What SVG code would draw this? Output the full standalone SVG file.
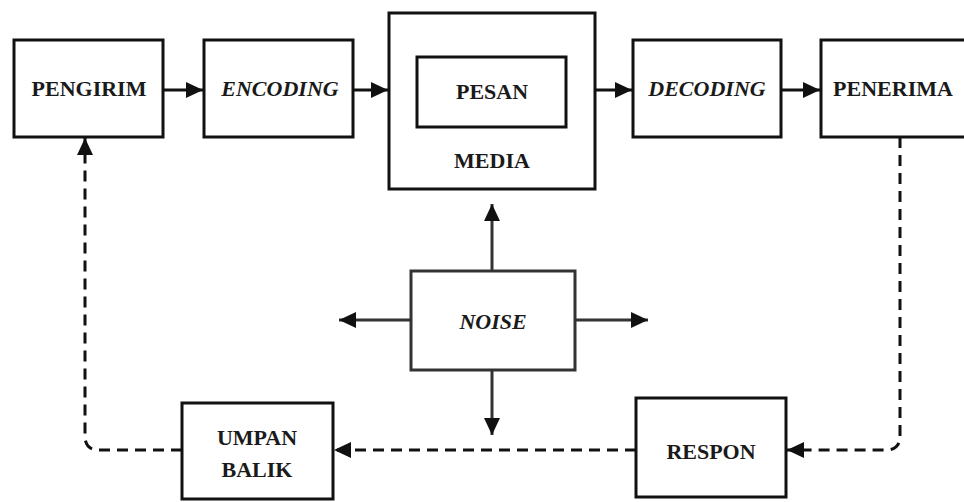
<svg xmlns="http://www.w3.org/2000/svg" width="964" height="502" viewBox="0 0 964 502">
<style>
.box{fill:#fff;stroke:#111;stroke-width:3}
.t{font-family:"Liberation Serif","DejaVu Serif",serif;font-weight:bold;font-size:22px;fill:#1a1a1a;text-anchor:middle}
.i{font-style:italic}
.c{fill:none;stroke:#111;stroke-width:3}
.n{fill:none;stroke:#333;stroke-width:3}
.d{fill:none;stroke:#111;stroke-width:3;stroke-dasharray:11 7}
</style>
<defs>
<marker id="ah" markerUnits="userSpaceOnUse" markerWidth="17" markerHeight="16" refX="17" refY="8" orient="auto">
<path d="M0,0 L17,8 L0,16 z" fill="#111"/>
</marker>
</defs>
<rect width="964" height="502" fill="#fff"/>
<g id="pengirim"><rect class="box" x="14" y="40" width="149" height="97"/><text class="t" x="89" y="96">PENGIRIM</text></g>
<g id="encoding"><rect class="box" x="204" y="40" width="149" height="97"/><text class="t i" x="280" y="96">ENCODING</text></g>
<g id="media"><rect class="box" x="389" y="13" width="206" height="176"/><text class="t" x="492" y="168">MEDIA</text></g>
<g id="pesan"><rect class="box" x="417" y="57" width="149" height="70"/><text class="t" x="492" y="99">PESAN</text></g>
<g id="decoding"><rect class="box" x="633" y="40" width="148" height="97"/><text class="t i" x="707" y="96">DECODING</text></g>
<g id="penerima"><rect class="box" x="821" y="40" width="150" height="97"/><text class="t" x="893" y="96">PENERIMA</text></g>
<g id="noise"><rect class="box" x="411" y="271" width="164" height="99" style="stroke:#333"/><text class="t i" x="493" y="329">NOISE</text></g>
<g id="umpan-balik"><rect class="box" x="182" y="403" width="151" height="96"/><text class="t" x="257" y="445">UMPAN</text><text class="t" x="257" y="477">BALIK</text></g>
<g id="respon"><rect class="box" x="636" y="398" width="150" height="99"/><text class="t" x="711" y="459">RESPON</text></g>
<g id="connectors">
<path class="c" d="M163,90 H203" marker-end="url(#ah)"/>
<path class="c" d="M353,90 H388" marker-end="url(#ah)"/>
<path class="c" d="M595,90 H632" marker-end="url(#ah)"/>
<path class="c" d="M781,90 H820" marker-end="url(#ah)"/>
<path class="n" d="M492,271 V204" marker-end="url(#ah)"/>
<path class="n" d="M492,370 V435" marker-end="url(#ah)"/>
<path class="n" d="M411,320 H339" marker-end="url(#ah)"/>
<path class="n" d="M575,320 H648" marker-end="url(#ah)"/>
<path class="d" d="M900,137 V436 Q900,450 886,450 H787" marker-end="url(#ah)"/>
<path class="d" d="M636,450 H334" marker-end="url(#ah)"/>
<path class="d" d="M182,450 H99 Q85,450 85,436 V138" marker-end="url(#ah)"/>
</g>
</svg>
